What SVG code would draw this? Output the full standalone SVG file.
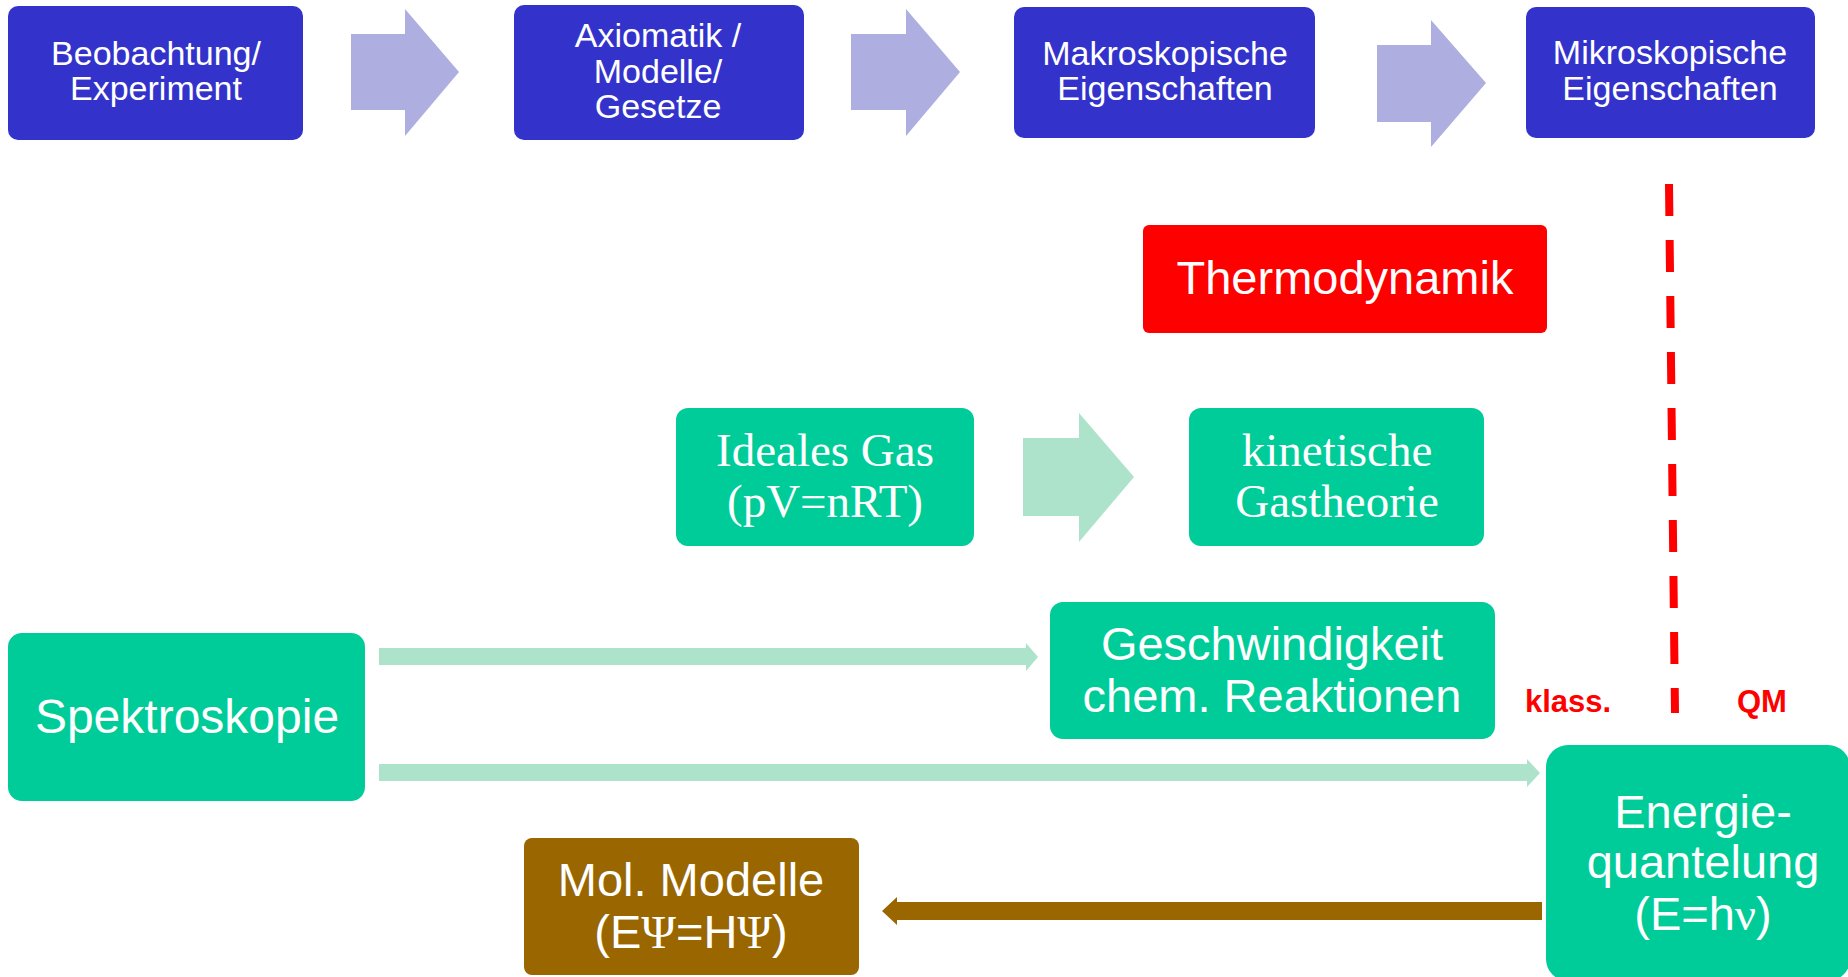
<svg xmlns="http://www.w3.org/2000/svg" width="1848" height="977" viewBox="0 0 1848 977">
<style>
.blue{fill:#3333CC}
.green{fill:#00CC99}
.t{fill:#FFFFFF;font-family:"Liberation Sans",Arial,sans-serif;text-anchor:middle}
.s34{font-size:34px}
.s47{font-size:47px}
.serif{font-family:"Liberation Serif","Times New Roman",serif}
.parr{fill:#AEAEE0}
.garr{fill:#ADE3CB}
.barr{fill:#996600}
.lbl{fill:#FF0000;font-family:"Liberation Sans",Arial,sans-serif;font-weight:bold;font-size:31px}
</style>
<rect width="1848" height="977" fill="#FFFFFF"/>
<g id="connectors">
<polygon class="parr" points="351,34 405,34 405,9 459,72 405,136 405,110 351,110"/>
<polygon class="parr" points="851,34 906,34 906,9 960,72 906,136 906,110 851,110"/>
<polygon class="parr" points="1377,45 1431,45 1431,20 1486,83 1431,147 1431,122 1377,122"/>
<polygon class="garr" points="1023,438 1079,438 1079,413 1134,477 1079,542 1079,516 1023,516"/>
<polygon class="garr" points="379,648 1026,648 1026,643 1038,657 1026,671 1026,665 379,665"/>
<polygon class="garr" points="379,764 1527,764 1527,759 1540,773 1527,787 1527,781 379,781"/>
<polygon class="barr" points="1542,902 897,902 897,897 882,911 897,925 897,920 1542,920"/>
<line x1="1669" y1="184" x2="1675" y2="713" stroke="#FF0000" stroke-width="8" stroke-dasharray="32 24"/>
</g>
<g id="n1">
<rect class="blue" x="8" y="6" width="295" height="134" rx="10"/>
<text class="t s34" x="156" y="65">Beobachtung/</text>
<text class="t s34" x="156" y="100">Experiment</text>
</g>
<g id="n2">
<rect class="blue" x="514" y="5" width="290" height="135" rx="10"/>
<text class="t s34" x="658" y="47">Axiomatik /</text>
<text class="t s34" x="658" y="83">Modelle/</text>
<text class="t s34" x="658" y="118">Gesetze</text>
</g>
<g id="n3">
<rect class="blue" x="1014" y="7" width="301" height="131" rx="10"/>
<text class="t s34" x="1165" y="65">Makroskopische</text>
<text class="t s34" x="1165" y="100">Eigenschaften</text>
</g>
<g id="n4">
<rect class="blue" x="1526" y="7" width="289" height="131" rx="10"/>
<text class="t s34" x="1670" y="64">Mikroskopische</text>
<text class="t s34" x="1670" y="100">Eigenschaften</text>
</g>
<g id="thermo">
<rect x="1143" y="225" width="404" height="108" rx="6" fill="#FF0000"/>
<text class="t s47" x="1345" y="294">Thermodynamik</text>
</g>
<g id="idealgas">
<rect class="green" x="676" y="408" width="298" height="138" rx="12"/>
<text class="t s47 serif" x="825" y="466">Ideales Gas</text>
<text class="t s47 serif" x="825" y="517">(pV=nRT)</text>
</g>
<g id="kinetisch">
<rect class="green" x="1189" y="408" width="295" height="138" rx="12"/>
<text class="t s47 serif" x="1337" y="466">kinetische</text>
<text class="t s47 serif" x="1337" y="517">Gastheorie</text>
</g>
<g id="spektro">
<rect class="green" x="8" y="633" width="357" height="168" rx="14"/>
<text class="t" style="font-size:48px" x="187" y="733">Spektroskopie</text>
</g>
<g id="geschw">
<rect class="green" x="1050" y="602" width="445" height="137" rx="13"/>
<text class="t s47" x="1272" y="660">Geschwindigkeit</text>
<text class="t s47" x="1272" y="712">chem. Reaktionen</text>
</g>
<g id="energie">
<rect class="green" x="1546" y="745" width="304" height="236" rx="22"/>
<text class="t s47" x="1703" y="828">Energie-</text>
<text class="t s47" x="1703" y="878">quantelung</text>
<text class="t s47" x="1703" y="930">(E=h<tspan class="serif">ν</tspan>)</text>
</g>
<g id="molmod">
<rect x="524" y="838" width="335" height="137" rx="8" fill="#996600"/>
<text class="t s47" x="691" y="896">Mol. Modelle</text>
<text class="t s47" x="691" y="948">(E<tspan class="serif">Ψ</tspan>=H<tspan class="serif">Ψ</tspan>)</text>
</g>
<g id="labels">
<text class="lbl" x="1525" y="712">klass.</text>
<text class="lbl" x="1737" y="712">QM</text>
</g>
</svg>
